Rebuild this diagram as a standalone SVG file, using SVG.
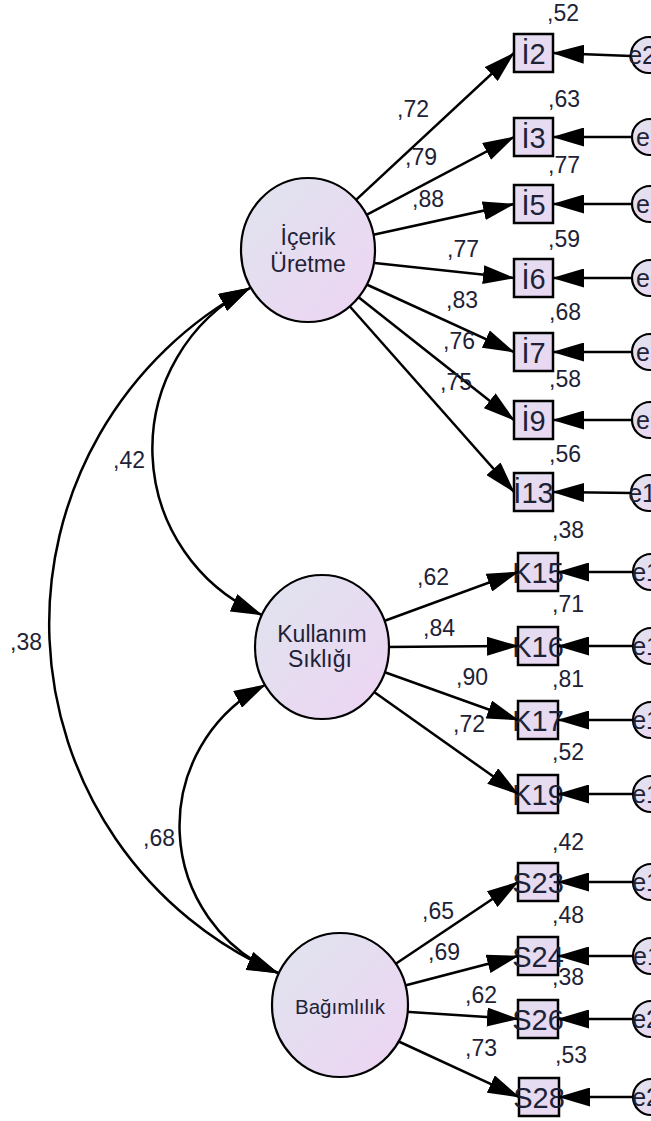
<svg xmlns="http://www.w3.org/2000/svg" width="651" height="1121" viewBox="0 0 651 1121">
<style>
.ln{stroke:#000;stroke-width:2.5;fill:none}
.arr{marker-end:url(#ah)}
.bi{marker-start:url(#ah);marker-end:url(#ah)}
.lat{fill:url(#gl);stroke:#000;stroke-width:2.2}
.box{fill:url(#gb);stroke:#000;stroke-width:2.5}
.err{fill:url(#gl);stroke:#000;stroke-width:2.2}
.t{font-family:"Liberation Sans",Arial,sans-serif;fill:#1e2236}
.c{font-size:23px}
.bt{font-size:29px;text-anchor:middle}
.et{font-size:25px;text-anchor:middle}
.lt{font-size:23px;text-anchor:middle}
</style>
<defs>
<linearGradient id="gl" x1="0" y1="0" x2="1" y2="1">
<stop offset="0" stop-color="#dfe4ee"/>
<stop offset="1" stop-color="#eed4f3"/>
</linearGradient>
<linearGradient id="gb" x1="0" y1="0" x2="1" y2="1">
<stop offset="0" stop-color="#e3dff0"/>
<stop offset="1" stop-color="#ead6f2"/>
</linearGradient>
<marker id="ah" viewBox="0 0 32 19" refX="31" refY="9.5" markerWidth="32" markerHeight="19" markerUnits="userSpaceOnUse" orient="auto-start-reverse">
<path d="M0,0 L32,9.5 L0,19 Z" fill="#000"/>
</marker>
</defs>
<rect width="651" height="1121" fill="#fff"/>

<g id="I2"><rect class="box" x="514" y="34" width="39" height="38"/><text class="t bt" x="533.5" y="64">İ2</text></g>
<g id="I3"><rect class="box" x="514" y="118" width="39" height="38"/><text class="t bt" x="533.5" y="148">İ3</text></g>
<g id="I5"><rect class="box" x="514" y="185" width="39" height="38"/><text class="t bt" x="533.5" y="215">İ5</text></g>
<g id="I6"><rect class="box" x="514" y="259" width="39" height="38"/><text class="t bt" x="533.5" y="289">İ6</text></g>
<g id="I7"><rect class="box" x="514" y="333" width="39" height="38"/><text class="t bt" x="533.5" y="363">İ7</text></g>
<g id="I9"><rect class="box" x="514" y="401" width="39" height="38"/><text class="t bt" x="533.5" y="431">İ9</text></g>
<g id="I13"><rect class="box" x="514" y="473" width="39" height="38"/><text class="t bt" x="533.5" y="503">İ13</text></g>
<g id="K15"><rect class="box" x="518" y="553" width="40" height="38"/><text class="t bt" x="538" y="583">K15</text></g>
<g id="K16"><rect class="box" x="518" y="627" width="40" height="38"/><text class="t bt" x="538" y="657">K16</text></g>
<g id="K17"><rect class="box" x="518" y="701" width="40" height="38"/><text class="t bt" x="538" y="731">K17</text></g>
<g id="K19"><rect class="box" x="518" y="775" width="40" height="38"/><text class="t bt" x="538" y="805">K19</text></g>
<g id="S23"><rect class="box" x="518" y="863" width="40" height="38"/><text class="t bt" x="538" y="893">S23</text></g>
<g id="S24"><rect class="box" x="518" y="937" width="40" height="38"/><text class="t bt" x="538" y="967">S24</text></g>
<g id="S26"><rect class="box" x="518" y="1000" width="40" height="38"/><text class="t bt" x="538" y="1030">S26</text></g>
<g id="S28"><rect class="box" x="519" y="1078" width="40" height="38"/><text class="t bt" x="539" y="1108">S28</text></g>

<g id="errors">
<g id="e20"><circle class="err" cx="649" cy="55" r="18"/><text class="t et" x="649" y="64">e20</text></g>
<g id="e3"><circle class="err" cx="650" cy="137" r="18"/><text class="t et" x="650" y="146">e3</text></g>
<g id="e5"><circle class="err" cx="650" cy="204" r="18"/><text class="t et" x="650" y="213">e5</text></g>
<g id="e6"><circle class="err" cx="650" cy="278" r="18"/><text class="t et" x="650" y="287">e6</text></g>
<g id="e7"><circle class="err" cx="650" cy="352" r="18"/><text class="t et" x="650" y="361">e7</text></g>
<g id="e9"><circle class="err" cx="650" cy="420" r="18"/><text class="t et" x="650" y="429">e9</text></g>
<g id="e13"><circle class="err" cx="649" cy="493" r="18"/><text class="t et" x="649" y="502">e13</text></g>
<g id="e15"><circle class="err" cx="651" cy="572" r="18"/><text class="t et" x="653" y="581">e15</text></g>
<g id="e16"><circle class="err" cx="651" cy="646" r="18"/><text class="t et" x="653" y="655">e16</text></g>
<g id="e17"><circle class="err" cx="651" cy="720" r="18"/><text class="t et" x="653" y="729">e17</text></g>
<g id="e19"><circle class="err" cx="651" cy="794" r="18"/><text class="t et" x="653" y="803">e19</text></g>
<g id="e10"><circle class="err" cx="651" cy="882" r="18"/><text class="t et" x="653" y="891">e10</text></g>
<g id="e11"><circle class="err" cx="651" cy="956" r="18"/><text class="t et" x="653" y="965">e11</text></g>
<g id="e21"><circle class="err" cx="651" cy="1019" r="18"/><text class="t et" x="653" y="1028">e21</text></g>
<g id="e22"><circle class="err" cx="651" cy="1097" r="18"/><text class="t et" x="653" y="1106">e22</text></g>
</g>

<g id="connectors">
<line class="ln arr" x1="353.6" y1="202.1" x2="514" y2="53"/>
<line class="ln arr" x1="362.7" y1="216.8" x2="514" y2="137"/>
<line class="ln arr" x1="371.1" y1="235.3" x2="514" y2="204"/>
<line class="ln arr" x1="370" y1="262.4" x2="514" y2="278"/>
<line class="ln arr" x1="364.5" y1="283.5" x2="514" y2="352"/>
<line class="ln arr" x1="357.3" y1="296.3" x2="514" y2="420"/>
<line class="ln arr" x1="349" y1="305.5" x2="514" y2="492"/>
<line class="ln arr" x1="381.4" y1="622" x2="518" y2="572"/>
<line class="ln arr" x1="384" y1="647" x2="518" y2="646"/>
<line class="ln arr" x1="381.4" y1="671" x2="518" y2="720"/>
<line class="ln arr" x1="372" y1="690.5" x2="518" y2="794"/>
<line class="ln arr" x1="392" y1="966.3" x2="518" y2="882"/>
<line class="ln arr" x1="401.2" y1="986.5" x2="518" y2="956"/>
<line class="ln arr" x1="402" y1="1011.6" x2="518" y2="1019"/>
<line class="ln arr" x1="396.6" y1="1040.5" x2="519" y2="1097"/>

<line class="ln arr" x1="631" y1="56" x2="553" y2="53"/>
<line class="ln arr" x1="632" y1="137" x2="553" y2="137"/>
<line class="ln arr" x1="632" y1="204" x2="553" y2="204"/>
<line class="ln arr" x1="632" y1="278" x2="553" y2="278"/>
<line class="ln arr" x1="632" y1="352" x2="553" y2="352"/>
<line class="ln arr" x1="632" y1="420" x2="553" y2="420"/>
<line class="ln arr" x1="631" y1="493" x2="553" y2="492"/>
<line class="ln arr" x1="633" y1="572" x2="558" y2="572"/>
<line class="ln arr" x1="633" y1="646" x2="558" y2="646"/>
<line class="ln arr" x1="633" y1="720" x2="558" y2="720"/>
<line class="ln arr" x1="633" y1="794" x2="558" y2="794"/>
<line class="ln arr" x1="633" y1="882" x2="558" y2="882"/>
<line class="ln arr" x1="633" y1="956" x2="558" y2="956"/>
<line class="ln arr" x1="633" y1="1019" x2="558" y2="1019"/>
<line class="ln arr" x1="633" y1="1097" x2="559" y2="1097"/>

<path class="ln bi" d="M250,288 A381,381 0 0 0 278,973"/>
<path class="ln bi" d="M250,288 A181,181 0 0 0 262,615"/>
<path class="ln bi" d="M265,685 A159,159 0 0 0 278,973"/>
</g>

<g id="Icerik"><ellipse class="lat" cx="308" cy="250" rx="67" ry="72"/><text class="t lt" x="308" y="245">İçerik</text><text class="t lt" x="308" y="272">Üretme</text></g>
<g id="Kullanim"><ellipse class="lat" cx="322" cy="647" rx="67" ry="72"/><text class="t lt" x="322" y="642">Kullanım</text><text class="t lt" x="320" y="667">Sıklığı</text></g>
<g id="Bagimlilik"><ellipse class="lat" cx="340" cy="1005" rx="68" ry="72"/><text class="t lt" x="340" y="1014" style="font-size:20.5px">Bağımlılık</text></g>

<g id="labels">
<text class="t c" x="547" y="21">,52</text>
<text class="t c" x="548" y="107">,63</text>
<text class="t c" x="548" y="173">,77</text>
<text class="t c" x="548" y="247">,59</text>
<text class="t c" x="549" y="320">,68</text>
<text class="t c" x="549" y="387">,58</text>
<text class="t c" x="549" y="462">,56</text>
<text class="t c" x="552" y="538">,38</text>
<text class="t c" x="552" y="612">,71</text>
<text class="t c" x="552" y="687">,81</text>
<text class="t c" x="552" y="760">,52</text>
<text class="t c" x="552" y="850">,42</text>
<text class="t c" x="552" y="923">,48</text>
<text class="t c" x="552" y="985">,38</text>
<text class="t c" x="555" y="1063">,53</text>
<text class="t c" x="397" y="117">,72</text>
<text class="t c" x="405" y="165">,79</text>
<text class="t c" x="412" y="207">,88</text>
<text class="t c" x="447" y="257">,77</text>
<text class="t c" x="446" y="308">,83</text>
<text class="t c" x="443" y="349">,76</text>
<text class="t c" x="440" y="390">,75</text>
<text class="t c" x="417" y="585">,62</text>
<text class="t c" x="423" y="636">,84</text>
<text class="t c" x="456" y="685">,90</text>
<text class="t c" x="453" y="732">,72</text>
<text class="t c" x="422" y="919">,65</text>
<text class="t c" x="428" y="960">,69</text>
<text class="t c" x="465" y="1003">,62</text>
<text class="t c" x="465" y="1056">,73</text>
<text class="t c" x="113" y="468">,42</text>
<text class="t c" x="10" y="650">,38</text>
<text class="t c" x="143" y="846">,68</text>
</g>
</svg>
